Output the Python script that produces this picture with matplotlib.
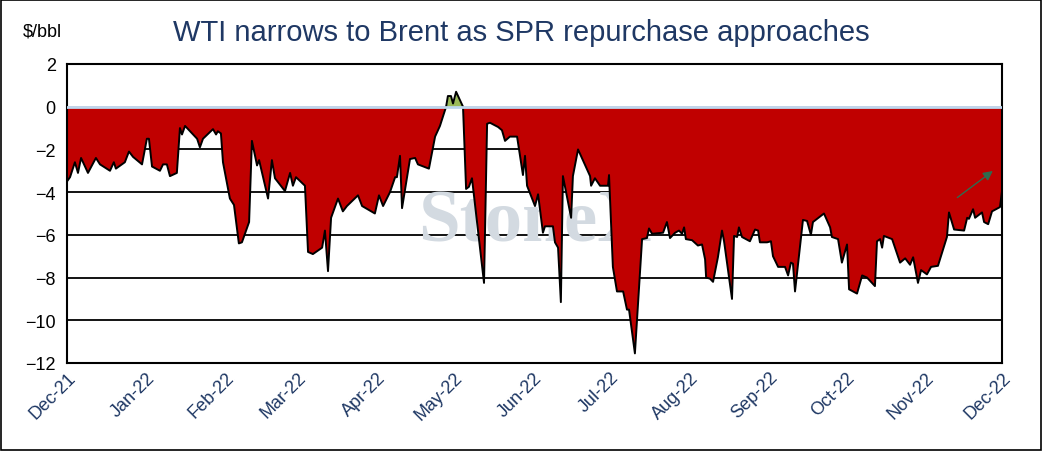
import numpy as np
import pandas as pd
import matplotlib
matplotlib.use('Agg')
import matplotlib.pyplot as plt
import matplotlib.dates as mdates

plt.rcParams['font.family'] = ['Liberation Sans', 'DejaVu Sans']

START = pd.Timestamp("2021-12-01")

# days after 1 Dec 2021, WTI-Brent spread ($/bbl)
days = [0, 1.2, 3.1, 4.3, 5.5, 8.2, 11.3, 12.9, 16.8, 18.3, 19.1, 22.6, 24.2, 25.8, 29.3, 31.2, 32.0,
        33.2, 36.3, 37.5, 39.0, 40.2, 42.9, 44.1, 44.9, 46.1, 50.8, 51.9, 53.1, 57.0, 58.2, 58.9,
        60.1, 60.9, 63.6, 65.2, 67.1, 68.3, 71.1, 72.2, 74.2, 75.0, 78.5, 80.0, 81.2, 85.1, 87.1,
        88.2, 89.4, 92.9, 94.1, 96.0, 99.6, 100.7, 101.9, 103.1, 105.8, 107.7, 109.3, 113.6, 115.2,
        120.2, 121.8, 123.4, 126.1, 128.1, 128.8, 130.0, 130.8, 133.9, 135.9, 137.0, 141.3, 143.7,
        145.6, 148.0, 148.7, 149.9, 150.7, 151.9, 154.6, 155.8, 156.9, 158.1, 162.8, 164.0, 165.1,
        168.3, 169.8, 171.0, 172.9, 175.7, 178.0, 178.8, 179.6, 182.7, 183.9, 185.8, 186.6, 189.7,
        190.5, 191.7, 192.8, 193.6, 196.8, 197.5, 199.5, 204.2, 204.6, 206.1, 208.1, 211.2, 211.6,
        213.1, 214.7, 217.1, 218.6, 219.4, 221.7, 224.5, 226.4, 227.2, 228.4, 232.7, 234.2, 235.4,
        237.4, 238.9, 240.1, 240.9, 241.6, 244.0, 246.3, 247.9, 249.1, 249.5, 251.0, 252.2, 254.1,
        255.7, 256.5, 259.6, 260.4, 261.6, 262.3, 263.5, 266.6, 268.6, 269.8, 270.5, 273.3, 274.8,
        275.6, 277.6, 280.3, 281.5, 282.6, 283.4, 284.2, 287.3, 288.9, 290.4, 291.2, 295.5, 297.9,
        298.6, 301.0, 302.5, 304.5, 305.3, 308.4, 310.4, 312.3, 315.4, 316.2, 317.4, 318.2, 318.9,
        322.1, 325.2, 327.2, 329.1, 330.3, 332.2, 333.4, 335.7, 337.3, 340.0, 343.5, 344.3, 346.3,
        350.2, 351.4, 352.1, 353.7, 354.5, 357.2, 358.0, 359.6, 361.1, 364.2, 365]
spread = [-3.5, -3.3, -2.6, -3.1, -2.4, -3.1, -2.4, -2.7, -3.0, -2.6, -2.9, -2.6, -2.1, -2.35,
          -2.7, -1.5, -1.5, -2.8, -3.0, -2.7, -2.7, -3.25, -3.1, -1.0, -1.3, -0.9, -1.5, -1.9,
          -1.5, -1.05, -1.3, -1.15, -1.25, -2.6, -4.3, -4.6, -6.4, -6.35, -5.4, -1.6, -2.75, -2.5,
          -4.3, -2.5, -3.35, -3.95, -3.1, -3.7, -3.3, -3.7, -6.8, -6.9, -6.6, -5.8, -7.7, -5.2,
          -4.3, -4.9, -4.65, -4.15, -4.65, -5.0, -4.15, -4.65, -4.0, -3.3, -3.3, -2.3, -4.75,
          -2.45, -2.4, -2.7, -2.9, -1.4, -0.9, 0.0, 0.5, 0.5, 0.15, 0.7, 0.0, -3.85, -3.75, -3.35,
          -8.25, -0.8, -0.75, -0.95, -1.1, -1.6, -1.4, -1.4, -3.2, -2.3, -3.7, -4.65, -4.1, -5.9,
          -5.6, -5.6, -6.35, -6.6, -9.15, -3.25, -5.2, -3.25, -2.0, -3.25, -3.7, -3.35, -3.7,
          -3.7, -3.2, -7.5, -8.65, -8.65, -9.5, -9.5, -11.55, -6.2, -6.15, -5.7, -5.95, -5.9,
          -5.4, -6.15, -5.9, -5.8, -5.95, -5.65, -6.2, -6.25, -6.5, -6.45, -7.15, -8.0, -8.05,
          -8.2, -7.05, -5.8, -6.3, -9.0, -6.05, -6.1, -5.65, -6.1, -6.3, -5.75, -5.8, -6.35,
          -6.35, -6.3, -7.0, -7.5, -7.5, -7.9, -7.3, -7.35, -8.65, -5.3, -5.35, -6.0, -5.4, -5.0,
          -5.65, -6.1, -6.2, -7.3, -6.45, -8.55, -8.75, -7.9, -8.0, -8.4, -6.3, -6.2, -6.6, -6.05,
          -6.2, -7.3, -7.1, -7.4, -7.05, -8.25, -7.65, -7.85, -7.5, -7.45, -6.1, -4.95, -5.75,
          -5.8, -5.2, -5.25, -4.8, -5.2, -4.95, -5.4, -5.5, -4.9, -4.7, -3.95]

months = pd.date_range("2021-12-01", "2022-12-01", freq="MS")

navy = "#1F3864"
x = np.array([START + pd.Timedelta(days=d) for d in days])
y = np.array(spread)

fig = plt.figure(figsize=(10.43, 4.52), dpi=100)
ax = fig.add_axes([0.0642, 0.1947, 0.8965, 0.6615])

for lvl in range(-12, 3, 2):
    if lvl != 0:
        ax.axhline(lvl, color="black", lw=1.3, zorder=1)

ax.text(0.5, 0.47, "StoneX", transform=ax.transAxes, ha="center", va="center",
        fontsize=54, family="Liberation Serif", fontweight="bold", color="#D3DAE1", zorder=1.5)

ax.fill_between(x, y, 0, where=y <= 0, interpolate=True, color="#C00000", lw=0, zorder=2)
ax.fill_between(x, y, 0, where=y >= 0, interpolate=True, color="#9BBB59", lw=0, zorder=2)
ax.plot(x, y, color="black", lw=1.4, zorder=3)
ax.axhline(0, color="#BDD7EE", lw=2, zorder=4)

ax.annotate("", xy=(START + pd.Timedelta(days=362.3), -2.93),
            xytext=(START + pd.Timedelta(days=346.7), -4.33),
            arrowprops=dict(arrowstyle="-|>", color="#2E6B4F", lw=1, mutation_scale=14), zorder=5)

ax.set_xlim(months[0], months[-1])
ax.set_ylim(-12, 2)
ax.set_yticks(range(-12, 3, 2))
ax.set_xticks(months)
ax.xaxis.set_major_formatter(mdates.DateFormatter("%b-%y"))
ax.tick_params(axis="x", length=0, labelsize=13, labelcolor=navy, pad=4)
ax.tick_params(axis="y", length=0, labelsize=13, pad=8)
for lbl in ax.get_xticklabels():
    lbl.set_rotation(45)
    lbl.set_ha("right")
    lbl.set_rotation_mode("anchor")
for s in ax.spines.values():
    s.set_linewidth(1.5)

fig.text(0.5, 0.927, "WTI narrows to Brent as SPR repurchase approaches", ha="center",
         va="center", fontsize=21, color=navy)
fig.text(0.022, 0.93, "$/bbl", ha="left", va="center", fontsize=13)
fig.patches.append(plt.Rectangle((0.001, 0.002), 0.997, 0.995, transform=fig.transFigure,
                                 fill=False, edgecolor="black", lw=1.2))

plt.savefig("out.png", dpi=100)
